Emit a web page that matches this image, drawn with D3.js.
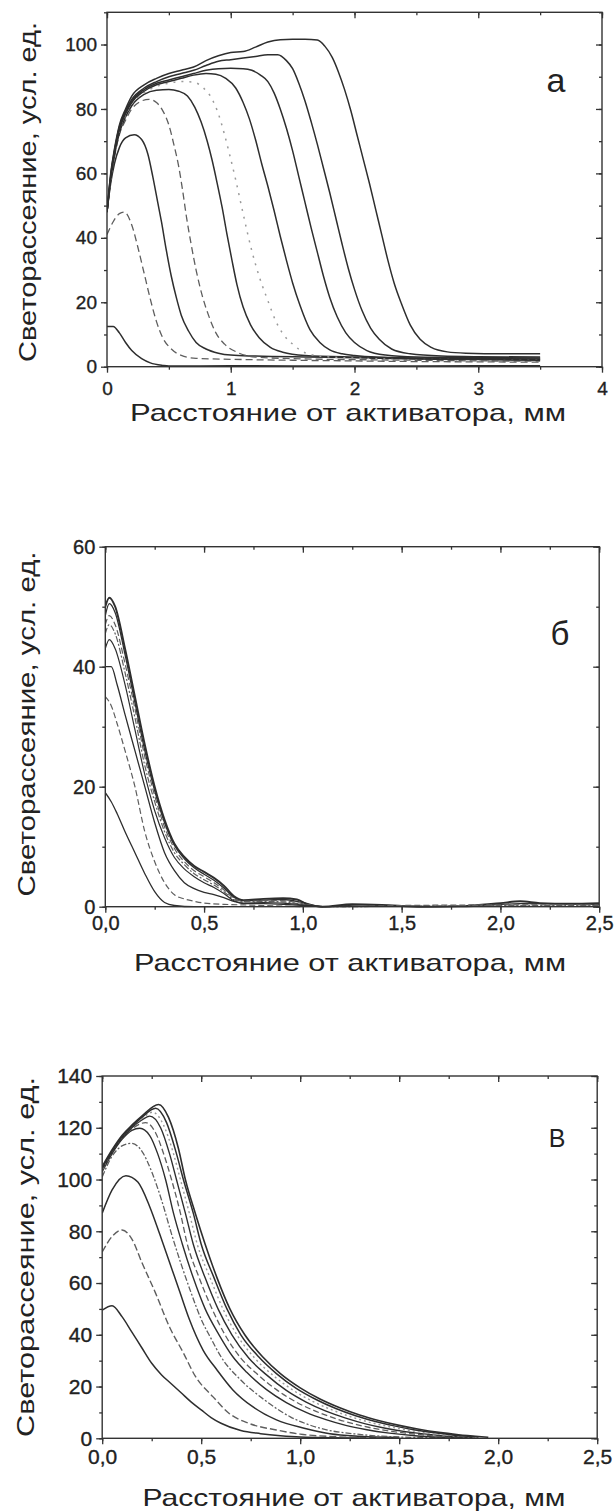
<!DOCTYPE html>
<html><head><meta charset="utf-8">
<script src="https://cdn.jsdelivr.net/npm/d3@7"></script>
<style>
html,body{margin:0;padding:0;background:#fff;}
svg{display:block;}
text{font-family:"Liberation Sans",Arial,sans-serif;fill:#222;}
</style></head>
<body>
<svg id="chart" width="616" height="1512"></svg>
<script>
// ---------- DATA ----------
const yTitle = "Светорассеяние, усл. ед.";
const xTitle = "Расстояние от активатора,  мм";
const panelLetters = ["а", "б", "В"];

const aXTicks = [0, 1, 2, 3, 4];
const aYTicks = [0, 20, 40, 60, 80, 100];
const bXTicks = [0, 0.5, 1.0, 1.5, 2.0, 2.5];
const bYTicks = [0, 20, 40, 60];
const vXTicks = [0, 0.5, 1.0, 1.5, 2.0, 2.5];
const vYTicks = [0, 20, 40, 60, 80, 100, 120, 140];

// Panel а : [distance mm, light scattering a.u.]
const a1 = [[0,12.5],[0.05,12.5],[0.1,10.5],[0.15,7.5],[0.2,5],[0.28,2.5],[0.35,1.2],[0.45,0.4],[0.5,0.2],[1.0,0.3],[2.0,0.2],[3.0,0.3],[3.5,0.3]];
const a2 = [[0,41],[0.05,45],[0.1,47.5],[0.14,48],[0.2,44],[0.25,37],[0.3,29],[0.35,21],[0.4,14],[0.45,9],[0.52,5.5],[0.6,3.5],[0.72,2.6],[1.0,2.3],[1.5,2],[2.0,1.8],[2.5,1.6],[3.0,1.5],[3.5,1.4]];
const a3 = [[0,48],[0.03,57],[0.06,63],[0.1,68],[0.15,71],[0.22,72],[0.28,70.5],[0.33,66],[0.37,59],[0.41,51],[0.44,45],[0.48,36],[0.52,28],[0.56,21.5],[0.6,16],[0.66,11],[0.72,7.5],[0.8,5.5],[0.9,4.2],[1.0,3.6],[1.2,3.3],[1.6,3],[2.0,2.8],[2.5,2.4],[3.0,2.3],[3.5,2.2]];
const a4 = [[0,48],[0.03,58],[0.06,65],[0.1,72],[0.15,76.5],[0.2,80],[0.27,82.3],[0.34,83],[0.4,82],[0.45,79.5],[0.5,75],[0.54,69],[0.58,62],[0.61,55],[0.64,47],[0.68,38],[0.72,30],[0.77,22],[0.82,16],[0.88,10.5],[0.95,7],[1.05,4.5],[1.2,3],[1.5,2.5],[2.0,2.2],[2.5,2],[3.0,1.8],[3.5,1.7]];
const a5 = [[0,48],[0.03,58],[0.06,65.5],[0.1,72.5],[0.15,77.5],[0.2,81],[0.3,84.5],[0.4,85.8],[0.5,86],[0.58,85.5],[0.65,84],[0.71,80.5],[0.76,76],[0.81,70],[0.85,64],[0.89,57],[0.93,49.5],[0.97,41],[1.01,33],[1.05,25.5],[1.1,18.5],[1.16,13],[1.23,9],[1.32,6],[1.42,4.5],[1.6,3.5],[2.0,3],[2.5,2.7],[3.0,2.5],[3.5,2.4]];
const a6 = [[0,48],[0.03,58],[0.06,65.5],[0.1,73],[0.15,78],[0.2,81.5],[0.3,85],[0.4,87],[0.5,88],[0.6,88.5],[0.7,88.3],[0.78,86.5],[0.85,83],[0.9,78.5],[0.95,72],[0.99,66],[1.04,58],[1.1,47.5],[1.17,36],[1.23,28],[1.3,20.5],[1.36,14.5],[1.42,10.3],[1.5,7],[1.61,4.2],[1.8,3],[2.2,2.5],[2.8,2.2],[3.5,2]];
const a7 = [[0,48],[0.03,58.5],[0.06,66],[0.1,73.5],[0.15,78.5],[0.2,82],[0.3,85.5],[0.4,87.5],[0.5,88.5],[0.6,89.5],[0.7,90.5],[0.8,91],[0.88,90.8],[0.96,89.5],[1.04,86.5],[1.1,82],[1.15,77],[1.2,70.5],[1.25,63],[1.3,56],[1.35,48.5],[1.4,40.5],[1.45,33],[1.5,26],[1.56,19],[1.64,11.5],[1.72,7.5],[1.8,5.2],[1.9,4],[2.0,3.5],[2.5,2.5],[3.0,2.2],[3.5,2]];
const a8 = [[0,48],[0.03,59],[0.06,66.5],[0.1,74],[0.15,79],[0.2,82.5],[0.3,86],[0.4,88],[0.5,89],[0.6,90],[0.7,91],[0.8,92],[0.9,92.5],[1.0,92.6],[1.1,92.5],[1.17,92],[1.24,90.5],[1.3,88.5],[1.35,85],[1.4,80],[1.45,74],[1.5,67],[1.55,59],[1.6,51],[1.65,43],[1.7,35.5],[1.75,28],[1.8,21.5],[1.86,15.5],[1.93,10.5],[2.0,7.5],[2.1,5],[2.25,3.6],[2.5,3],[3.0,2.8],[3.5,2.7]];
const a9 = [[0,48],[0.03,59.5],[0.06,67],[0.1,74.5],[0.15,79.5],[0.2,83],[0.3,86.5],[0.4,88.5],[0.5,90],[0.6,91],[0.7,92],[0.8,93.5],[0.9,94.8],[1.0,95.3],[1.1,95.8],[1.2,96.3],[1.3,96.8],[1.38,96.8],[1.45,95],[1.5,92.5],[1.55,88],[1.6,82.5],[1.65,76],[1.7,69],[1.75,61.5],[1.8,54],[1.85,46],[1.9,38],[1.95,30.5],[2.0,24],[2.06,17.5],[2.13,12],[2.2,8.5],[2.3,5.5],[2.45,4],[2.7,3.3],[3.0,3.1],[3.5,3]];
const a10 = [[0,48],[0.03,60],[0.06,67.5],[0.1,75],[0.15,80],[0.2,84],[0.3,87.5],[0.4,89.5],[0.5,91],[0.6,92],[0.7,93],[0.8,95],[0.9,96.5],[1.0,97.5],[1.1,97.8],[1.2,99.2],[1.3,100.8],[1.4,101.5],[1.5,101.6],[1.6,101.6],[1.7,101.4],[1.76,99.5],[1.82,96],[1.87,91.5],[1.92,86],[1.97,79.5],[2.02,72],[2.07,64.5],[2.12,57],[2.17,49],[2.22,41],[2.27,33],[2.32,26],[2.38,19.5],[2.45,13],[2.53,8.5],[2.62,6],[2.75,4.6],[2.9,4.2],[3.2,4],[3.5,4]];

// Panel б
const b1 = [[0,50],[0.02,51.5],[0.05,50],[0.1,43],[0.15,35],[0.2,27],[0.25,20],[0.3,14.5],[0.35,10.5],[0.4,8.3],[0.45,6.8],[0.5,5.8],[0.55,4.8],[0.6,3.5],[0.65,1.8],[0.7,1.1],[0.8,1.3],[0.9,1.4],[0.97,1.2],[1.03,0.3],[1.1,0],[1.25,0.4],[1.4,0.3],[1.6,0],[1.8,0.1],[2.0,0.6],[2.1,0.9],[2.2,0.6],[2.35,0.5],[2.5,0.6]];
const b2 = [[0,48.5],[0.02,50.5],[0.05,49],[0.1,42],[0.15,34],[0.2,26],[0.25,19.3],[0.3,14],[0.35,10.2],[0.4,8],[0.45,6.5],[0.5,5.4],[0.55,4.4],[0.6,3.1],[0.65,1.6],[0.7,1],[0.8,1.1],[0.9,1.2],[1.0,0.7],[1.1,0],[1.3,0.3],[1.5,0.1],[1.8,0],[2.1,0.5],[2.5,0.4]];
const b3 = [[0,47],[0.02,48.5],[0.05,47],[0.1,40.5],[0.15,33],[0.2,25],[0.25,18.5],[0.3,13.3],[0.35,9.7],[0.4,7.5],[0.45,6],[0.5,5],[0.55,4],[0.6,2.8],[0.65,1.4],[0.7,0.9],[0.8,1],[0.9,1],[1.0,0.5],[1.1,0],[1.5,0.2],[2.0,0.3],[2.5,0.3]];
const b4 = [[0,45.5],[0.02,47],[0.05,45.5],[0.1,39],[0.15,31.5],[0.2,23.5],[0.25,17.5],[0.3,12.5],[0.35,9],[0.4,7],[0.45,5.5],[0.5,4.5],[0.55,3.6],[0.6,2.5],[0.65,1.2],[0.7,0.8],[0.8,0.9],[0.9,0.8],[1.0,0.4],[1.1,0],[2.0,0.2],[2.5,0.2]];
const b5 = [[0,43],[0.02,44.5],[0.05,43],[0.1,37],[0.15,29.5],[0.2,22],[0.25,16],[0.3,11.5],[0.35,8.2],[0.4,6.3],[0.45,5],[0.5,4],[0.55,3.2],[0.6,2.2],[0.65,1],[0.7,0.6],[0.8,0.7],[0.9,0.6],[1.0,0.3],[1.1,0]];
const b6 = [[0,40],[0.03,40],[0.06,37],[0.1,32],[0.15,26],[0.2,20],[0.25,14],[0.3,9],[0.35,6],[0.4,4],[0.45,3],[0.5,2.4],[0.55,2],[0.6,1.5],[0.65,0.9],[0.7,0.5],[0.8,0.5],[0.9,0.4],[1.0,0.2],[1.1,0]];
const b7 = [[0,35],[0.03,33.5],[0.06,30.5],[0.1,26],[0.15,20],[0.2,12.5],[0.25,7.5],[0.3,4],[0.35,2],[0.4,1.3],[0.45,0.9],[0.5,0.6],[0.6,0.4],[0.7,0.3],[0.8,0.2],[1.0,0]];
const b8 = [[0,19],[0.03,17.5],[0.06,15.5],[0.1,12.5],[0.15,9],[0.2,5.5],[0.25,2.5],[0.3,0.7],[0.35,0.2],[0.45,0],[0.6,0]];

// Panel В
const v1 = [[0,49.5],[0.05,51.2],[0.1,47],[0.15,41],[0.2,35],[0.25,29],[0.3,24.5],[0.35,21],[0.4,17.5],[0.45,14],[0.5,11],[0.55,8],[0.6,5.8],[0.7,3],[0.8,1.8],[0.9,1],[1.0,0.5],[1.3,0.1]];
const v2 = [[0,72],[0.05,78],[0.1,80.5],[0.15,77],[0.2,68],[0.27,56],[0.34,43],[0.41,33],[0.47,24],[0.56,16],[0.64,9.7],[0.74,5.8],[0.88,3.2],[1.0,1.6],[1.15,0.7],[1.4,0.2]];
const v3 = [[0,87],[0.05,96],[0.12,101.5],[0.18,99],[0.24,89.5],[0.29,79],[0.34,68],[0.39,57],[0.44,46],[0.51,34],[0.58,26.4],[0.66,18.7],[0.76,12.2],[0.88,7.1],[1.02,3.9],[1.15,1.8],[1.3,0.8],[1.5,0.3]];
const v4 = [[0,101],[0.05,109],[0.1,113],[0.15,114],[0.2,111],[0.25,103],[0.3,92],[0.35,79],[0.4,67],[0.45,56],[0.5,46],[0.55,38.5],[0.6,31.5],[0.7,22.5],[0.82,14.8],[0.95,8.3],[1.1,3.9],[1.3,1.5],[1.5,0.5],[1.7,0.2]];
const v5 = [[0,103],[0.05,110],[0.1,115.5],[0.15,119],[0.19,119.8],[0.24,117],[0.28,110],[0.32,100],[0.36,87],[0.405,75],[0.46,62],[0.52,50],[0.59,40],[0.66,31.5],[0.73,25.5],[0.83,18.8],[0.93,13.8],[1.03,10],[1.13,7.2],[1.23,5],[1.33,3.4],[1.45,2],[1.58,1],[1.72,0.4],[1.85,0.1]];
const v6 = [[0,103.5],[0.05,110.5],[0.1,116],[0.15,119.5],[0.22,122],[0.27,118],[0.31,110],[0.35,100],[0.395,87],[0.43,75],[0.49,62],[0.555,50],[0.62,40],[0.7,31],[0.78,25],[0.88,18.8],[0.98,14],[1.08,10.4],[1.18,7.6],[1.28,5.4],[1.38,3.7],[1.5,2.3],[1.62,1.3],[1.75,0.5],[1.85,0.2]];
const v7 = [[0,104],[0.05,110.5],[0.1,116],[0.15,120],[0.2,123],[0.24,124.5],[0.295,120],[0.34,110],[0.375,100],[0.42,87],[0.46,75],[0.52,62],[0.585,50],[0.655,40],[0.74,31],[0.83,24.5],[0.93,18.5],[1.03,14],[1.13,10.5],[1.23,7.8],[1.33,5.6],[1.43,3.9],[1.53,2.6],[1.65,1.5],[1.78,0.6],[1.88,0.2]];
const v8 = [[0,104],[0.05,111],[0.1,116.5],[0.15,120.5],[0.2,123.5],[0.255,126],[0.31,121],[0.36,110],[0.395,100],[0.44,87],[0.48,75],[0.545,62],[0.61,50],[0.68,40],[0.77,31],[0.86,24.5],[0.96,18.8],[1.06,14.4],[1.16,11],[1.26,8.2],[1.36,6],[1.46,4.3],[1.56,2.9],[1.66,1.8],[1.78,0.9],[1.9,0.3]];
const v9 = [[0,104.5],[0.05,111],[0.1,116.5],[0.15,120.5],[0.2,124],[0.27,127.5],[0.325,122],[0.375,110],[0.41,100],[0.46,87],[0.5,75],[0.565,62],[0.63,50],[0.7,40],[0.79,31.5],[0.88,25],[0.98,19.3],[1.08,15],[1.18,11.5],[1.28,8.7],[1.38,6.5],[1.48,4.7],[1.58,3.2],[1.68,2.1],[1.78,1.2],[1.9,0.5]];
const v10 = [[0,105],[0.05,111.5],[0.1,117],[0.15,121],[0.2,124.5],[0.285,129],[0.335,124],[0.385,112],[0.42,100],[0.47,87],[0.52,75],[0.58,62],[0.645,50],[0.72,40],[0.81,31.5],[0.9,25],[1.0,19.5],[1.1,15.2],[1.2,11.8],[1.3,9],[1.4,6.8],[1.5,5],[1.6,3.5],[1.7,2.3],[1.8,1.4],[1.9,0.7],[1.95,0.4]];

// ---------- STYLES (kept apart from data) ----------
const DARK = "#2e2e2e", MID = "#5e5e5e", LIGHT = "#9a9a9a";
const styleA = [
  {c:DARK,w:1.5,d:null},{c:MID,w:1.3,d:"7,4"},{c:DARK,w:1.5,d:null},{c:MID,w:1.3,d:"7,4"},
  {c:DARK,w:1.5,d:null},{c:LIGHT,w:1.5,d:"2,6"},{c:DARK,w:1.5,d:null},{c:DARK,w:1.5,d:null},
  {c:DARK,w:1.5,d:null},{c:DARK,w:1.5,d:null}];
const styleB = [
  {c:DARK,w:1.9,d:null},{c:DARK,w:1.3,d:null},{c:MID,w:1.2,d:"6,3"},{c:MID,w:1.2,d:"6,2,2,2"},
  {c:DARK,w:1.2,d:null},{c:DARK,w:1.3,d:null},{c:MID,w:1.2,d:"6,3"},{c:DARK,w:1.3,d:null}];
const styleV = [
  {c:DARK,w:1.5,d:null},{c:MID,w:1.4,d:"7,3"},{c:DARK,w:1.5,d:null},{c:MID,w:1.3,d:"6,2,2,2"},
  {c:DARK,w:1.4,d:null},{c:MID,w:1.3,d:"6,3"},{c:DARK,w:1.4,d:null},{c:LIGHT,w:1.4,d:"2,3"},
  {c:DARK,w:1.5,d:null},{c:DARK,w:1.6,d:null}];

const svg = d3.select("#chart");
const commaFmt = d => d3.format(".1f")(d).replace(".", ",");
const intFmt = d => String(d);

function drawPanel(p) {
  const x = d3.scaleLinear().domain(p.xDomain).range([p.left, p.right]);
  const y = d3.scaleLinear().domain(p.yDomain).range([p.bottom, p.top]);
  const g = svg.append("g");
  const clipId = "clip" + p.id;
  svg.append("clipPath").attr("id", clipId).append("rect")
    .attr("x", p.left).attr("y", p.top).attr("width", p.right - p.left).attr("height", p.bottom - p.top + 2);

  const line = d3.line().x(d => x(d[0])).y(d => y(d[1])).curve(d3.curveMonotoneX);
  const lg = g.append("g").attr("clip-path", `url(#${clipId})`);
  p.series.forEach((s, i) => {
    const st = p.styles[i];
    lg.append("path").datum(s).attr("d", line).attr("fill", "none")
      .attr("stroke", st.c).attr("stroke-width", st.w)
      .attr("stroke-dasharray", st.d).attr("stroke-linejoin", "round");
  });

  const xMinor = d3.range(p.xDomain[0], p.xDomain[1] + 1e-9, p.xMinorStep);
  const yMinor = d3.range(p.yDomain[0], p.yDomain[1] + 1e-9, p.yMinorStep);

  const axStyle = sel => {
    sel.select(".domain").remove();
    sel.selectAll("line").attr("stroke", "#333").attr("stroke-width", 1.3);
    sel.selectAll("text").style("font-size", p.tickFont + "px").attr("fill", "#1e1e1e")
      .attr("stroke", "#1e1e1e").attr("stroke-width", 0.35);
  };
  g.append("g").attr("transform", `translate(0,${p.bottom})`)
    .call(d3.axisBottom(x).tickValues(xMinor).tickSize(3).tickFormat("")).call(axStyle);
  g.append("g").attr("transform", `translate(0,${p.bottom})`)
    .call(d3.axisBottom(x).tickValues(p.xTicks).tickSize(6).tickPadding(5).tickFormat(p.xFmt)).call(axStyle)
    .selectAll("text").attr("y", p.xTickLabelDy).attr("dy", 0);
  g.append("g").attr("transform", `translate(0,${p.top})`)
    .call(d3.axisTop(x).tickValues(xMinor).tickSize(-3).tickFormat("")).call(axStyle);
  g.append("g").attr("transform", `translate(0,${p.top})`)
    .call(d3.axisTop(x).tickValues(p.xTicks).tickSize(-6).tickFormat("")).call(axStyle);
  g.append("g").attr("transform", `translate(${p.left},0)`)
    .call(d3.axisLeft(y).tickValues(yMinor).tickSize(3).tickFormat("")).call(axStyle);
  g.append("g").attr("transform", `translate(${p.left},0)`)
    .call(d3.axisLeft(y).tickValues(p.yTicks).tickSize(6).tickPadding(4).tickFormat(intFmt)).call(axStyle);
  g.append("g").attr("transform", `translate(${p.right},0)`)
    .call(d3.axisRight(y).tickValues(yMinor).tickSize(-3).tickFormat("")).call(axStyle);
  g.append("g").attr("transform", `translate(${p.right},0)`)
    .call(d3.axisRight(y).tickValues(p.yTicks).tickSize(-6).tickFormat("")).call(axStyle);

  g.append("rect").attr("x", p.left).attr("y", p.top)
    .attr("width", p.right - p.left).attr("height", p.bottom - p.top)
    .attr("fill", "none").attr("stroke", "#333").attr("stroke-width", 1.4);

  g.append("text").attr("x", p.xTitleX).attr("y", p.xTitleY).attr("text-anchor", "middle")
    .style("font-size", "24px").attr("fill", "#2a2a2a")
    .attr("textLength", p.xTitleLen).attr("lengthAdjust", "spacingAndGlyphs").text(xTitle);
  g.append("text").attr("transform", `translate(${p.yTitleX},${p.yTitleY}) rotate(-90)`)
    .attr("text-anchor", "middle").attr("dy", "0.35em")
    .style("font-size", "24px").attr("fill", "#2a2a2a")
    .attr("textLength", p.yTitleLen).attr("lengthAdjust", "spacingAndGlyphs").text(yTitle);
  g.append("text").attr("x", p.letterX).attr("y", p.letterY).attr("text-anchor", "middle")
    .style("font-size", p.letterFont + "px").attr("fill", "#333").text(p.letter);
}

drawPanel({
  id: "a", series: [a1,a2,a3,a4,a5,a6,a7,a8,a9,a10], styles: styleA,
  xDomain: [0, 4], yDomain: [0, 110], left: 107, right: 602, top: 12.3, bottom: 366.7,
  xTicks: aXTicks, yTicks: aYTicks, xMinorStep: 0.5, yMinorStep: 10, xFmt: intFmt,
  tickFont: 19, xTickLabelDy: 28,
  xTitleX: 348, xTitleY: 421, xTitleLen: 436,
  yTitleX: 28, yTitleY: 192, yTitleLen: 340,
  letter: panelLetters[0], letterX: 556, letterY: 92, letterFont: 34
});
drawPanel({
  id: "b", series: [b1,b2,b3,b4,b5,b6,b7,b8], styles: styleB,
  xDomain: [0, 2.5], yDomain: [0, 60], left: 105.3, right: 599.2, top: 546.7, bottom: 906.7,
  xTicks: bXTicks, yTicks: bYTicks, xMinorStep: 0.25, yMinorStep: 10, xFmt: commaFmt,
  tickFont: 20, xTickLabelDy: 23,
  xTitleX: 350, xTitleY: 971, xTitleLen: 432,
  yTitleX: 27, yTitleY: 724, yTitleLen: 345,
  letter: panelLetters[1], letterX: 560, letterY: 645, letterFont: 33
});
drawPanel({
  id: "v", series: [v1,v2,v3,v4,v5,v6,v7,v8,v9,v10], styles: styleV,
  xDomain: [0, 2.5], yDomain: [0, 140], left: 102.2, right: 597.2, top: 1076, bottom: 1438.3,
  xTicks: vXTicks, yTicks: vYTicks, xMinorStep: 0.25, yMinorStep: 10, xFmt: commaFmt,
  tickFont: 21, xTickLabelDy: 26,
  xTitleX: 354, xTitleY: 1506, xTitleLen: 423,
  yTitleX: 26, yTitleY: 1257, yTitleLen: 360,
  letter: panelLetters[2], letterX: 557, letterY: 1147, letterFont: 25
});
</script>
</body></html>
